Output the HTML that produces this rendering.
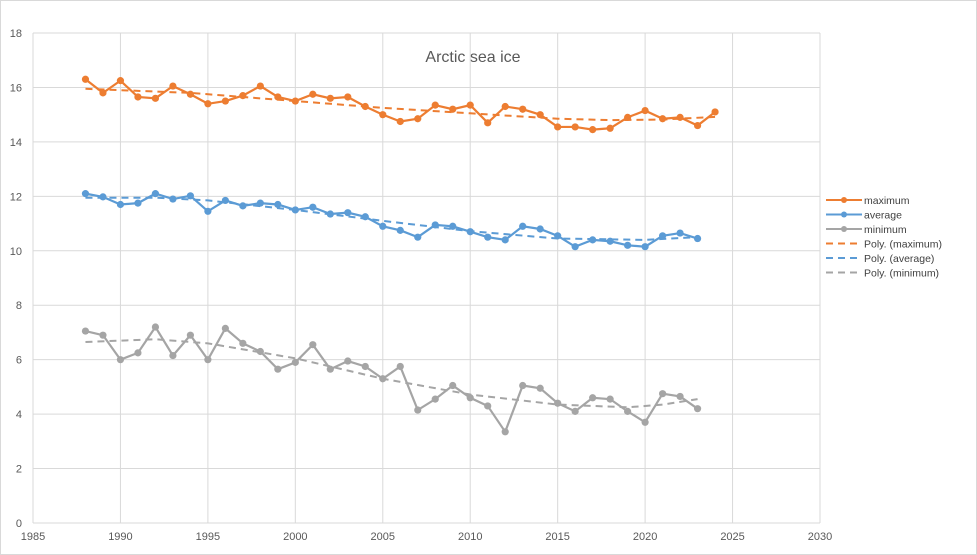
<!DOCTYPE html>
<html><head><meta charset="utf-8"><style>
html,body{margin:0;padding:0;background:#fff}
svg{display:block;font-family:"Liberation Sans",sans-serif}
</style></head><body>
<svg id="c" width="977" height="555" xmlns="http://www.w3.org/2000/svg">
<rect x="0.5" y="0.5" width="976" height="554" fill="#fff" stroke="#d9d9d9"/>
<text x="473" y="62" font-size="16" fill="#595959" text-anchor="middle">Arctic sea ice</text>
</svg>
<script>
const s=document.getElementById('c');const NS='http://www.w3.org/2000/svg';
function X(y){return 33+(y-1985)*787/45}function Y(v){return 523-v*490/18}
function el(t,a,txt){const e=document.createElementNS(NS,t);for(const k in a)e.setAttribute(k,a[k]);if(txt!=null)e.textContent=txt;s.appendChild(e);return e}
for(let v=0;v<=18;v+=2){el('line',{x1:33,x2:820,y1:Y(v),y2:Y(v),stroke:'#d9d9d9'});el('text',{x:22,y:Y(v)+4,'font-size':11,fill:'#595959','text-anchor':'end'},v)}
for(let y=1985;y<=2030;y+=5){el('line',{x1:X(y),x2:X(y),y1:33,y2:523,stroke:'#d9d9d9'});el('text',{x:X(y),y:540,'font-size':11,fill:'#595959','text-anchor':'middle'},y)}
const mx=[16.3,15.8,16.25,15.65,15.6,16.05,15.75,15.4,15.5,15.7,16.05,15.65,15.5,15.75,15.6,15.65,15.3,15.0,14.75,14.85,15.35,15.2,15.35,14.7,15.3,15.2,15.0,14.55,14.55,14.45,14.5,14.9,15.15,14.85,14.9,14.6,15.1];
const av=[12.1,11.98,11.7,11.75,12.1,11.9,12.02,11.45,11.85,11.65,11.75,11.7,11.5,11.6,11.35,11.4,11.25,10.9,10.75,10.5,10.95,10.9,10.7,10.5,10.4,10.9,10.8,10.55,10.15,10.4,10.35,10.2,10.15,10.55,10.65,10.45];
const mn=[7.05,6.9,6.0,6.25,7.2,6.15,6.9,6.0,7.15,6.6,6.3,5.65,5.9,6.55,5.65,5.95,5.75,5.3,5.75,4.15,4.55,5.05,4.6,4.3,3.35,5.05,4.95,4.4,4.1,4.6,4.55,4.1,3.7,4.75,4.65,4.2];
function series(d,c){el('polyline',{points:d.map((v,i)=>X(1988+i)+','+Y(v)).join(' '),fill:'none',stroke:c,'stroke-width':2.2});d.forEach((v,i)=>el('circle',{cx:X(1988+i),cy:Y(v),r:3.6,fill:c}))}
function trend(p,c){el('polyline',{points:p.map(q=>X(q[0])+','+Y(q[1])).join(' '),fill:'none',stroke:c,'stroke-width':2,'stroke-dasharray':'7,5'})}
trend([[1988,15.95],[1994,15.8],[2000,15.5],[2005,15.25],[2010,15.05],[2015,14.85],[2018,14.8],[2021,14.82],[2024,14.92]],'#ed7d31');
trend([[1988,11.95],[1992,11.95],[1995,11.85],[2000,11.5],[2005,11.1],[2010,10.72],[2015,10.45],[2020,10.4],[2023,10.5]],'#5b9bd5');
trend([[1988,6.65],[1992,6.75],[1995,6.6],[2000,6.05],[2005,5.3],[2010,4.72],[2015,4.35],[2019,4.25],[2021,4.35],[2023,4.55]],'#a5a5a5');
series(mx,'#ed7d31');series(av,'#5b9bd5');series(mn,'#a5a5a5');
const L=[['maximum','#ed7d31',0],['average','#5b9bd5',0],['minimum','#a5a5a5',0],['Poly. (maximum)','#ed7d31',1],['Poly. (average)','#5b9bd5',1],['Poly. (minimum)','#a5a5a5',1]];
L.forEach((l,i)=>{const y=200+i*14.5;if(l[2])el('line',{x1:826,x2:862,y1:y,y2:y,stroke:l[1],'stroke-width':2,'stroke-dasharray':'7,5'});else{el('line',{x1:826,x2:862,y1:y,y2:y,stroke:l[1],'stroke-width':2});el('circle',{cx:844,cy:y,r:3,fill:l[1]})}el('text',{x:864,y:y+4,'font-size':10.5,fill:'#404040'},l[0])});
</script>
</body></html>
